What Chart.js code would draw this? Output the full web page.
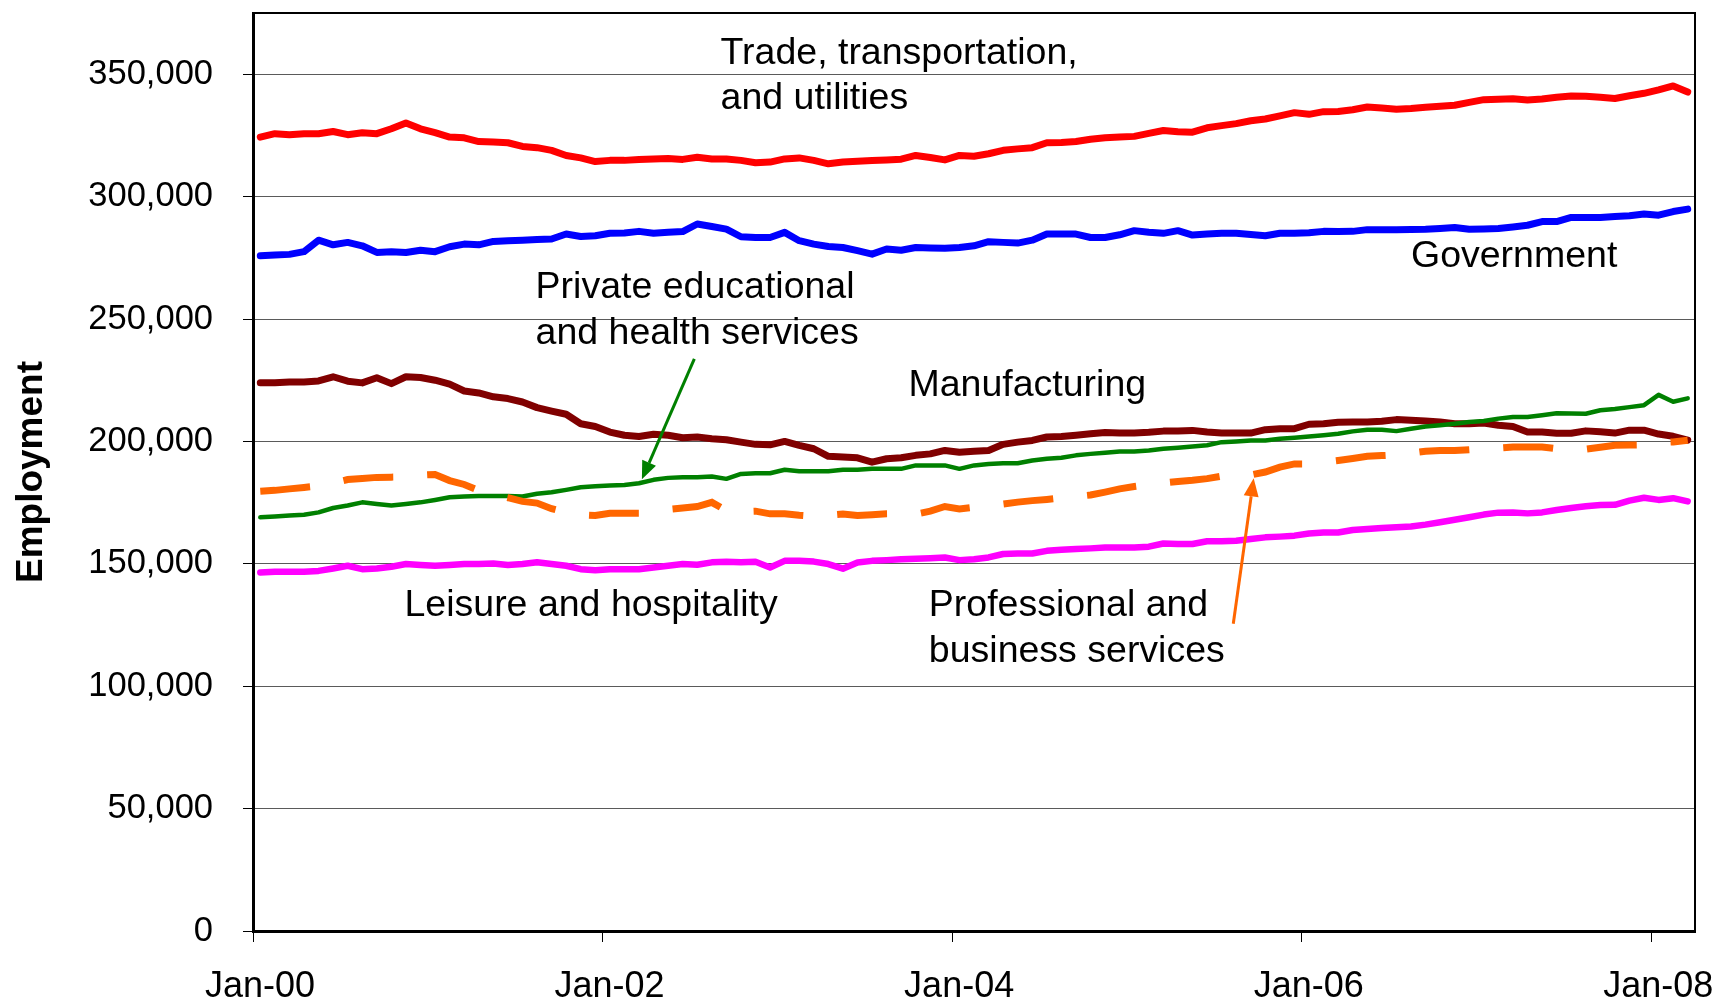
<!DOCTYPE html>
<html>
<head>
<meta charset="utf-8">
<script src="https://cdn.jsdelivr.net/npm/chart.js@4/dist/chart.umd.min.js"></script>
<style>
  html, body { margin: 0; padding: 0; background: #fff; }
  #wrap { width: 1716px; height: 1001px; }
</style>
</head>
<body>
<div id="wrap"><canvas id="chart"></canvas></div>
<script>
// monthly series, Jan-00 .. Mar-08 (99 months)
const monthCount = 99;
const tickPositions = [0, 24, 48, 72, 96];
const tickLabels = ["Jan-00", "Jan-02", "Jan-04", "Jan-06", "Jan-08"];
const yTicks = [0, 50000, 100000, 150000, 200000, 250000, 300000, 350000];

const trade = [
  324300, 325700, 325300, 325700, 325700, 326600, 325300, 326100, 325700, 327700,
  330100, 327700, 326100, 324300, 324000, 322500, 322300, 322000, 320500, 320000,
  318900, 316800, 315800, 314300, 314800, 314800, 315200, 315400, 315600, 315200,
  316100, 315400, 315400, 314800, 313800, 314100, 315400, 315800, 314800, 313400,
  314100, 314400, 314700, 315000, 315300, 316800, 316000, 315000, 316800, 316500,
  317500, 318900, 319500, 320000, 322000, 322100, 322500, 323400, 324000, 324300,
  324600, 325800, 327000, 326500, 326300, 328100, 329000, 329800, 331000, 331700,
  333000, 334300, 333600, 334700, 334800, 335500, 336600, 336200, 335700, 336000,
  336500, 336900, 337300, 338500, 339600, 339800, 340000, 339500, 339900, 340600,
  341100, 341000, 340600, 340100, 341200, 342200, 343600, 345200, 342700
];
const government = [
  275800, 276100, 276400, 277500, 282200, 280300, 281300, 279900, 277200, 277500,
  277200, 278100, 277500, 279500, 280600, 280300, 281700, 282000, 282200, 282500,
  282700, 284700, 283700, 284000, 285000, 285100, 285800, 285000, 285400, 285700,
  288800, 287800, 286700, 283600, 283300, 283300, 285400, 282000, 280600, 279600,
  279200, 277900, 276500, 278600, 278100, 279200, 279000, 278900, 279200, 279900,
  281600, 281300, 281000, 282200, 284700, 284700, 284700, 283300, 283300, 284400,
  286100, 285400, 285000, 286100, 284300, 284700, 285000, 285000, 284500, 284000,
  285000, 285000, 285200, 285800, 285700, 285800, 286500, 286500, 286500, 286600,
  286700, 287000, 287400, 286700, 286800, 287000, 287600, 288300, 289800, 289800,
  291500, 291500, 291500, 291900, 292200, 292900, 292400, 293900, 294900
];
const manufacturing = [
  224000, 224000, 224300, 224300, 224700, 226400, 224600, 223900, 226000, 223600,
  226400, 226100, 225000, 223400, 220600, 219800, 218200, 217500, 216100, 213800,
  212400, 211100, 207200, 206100, 203800, 202500, 202000, 202900, 202500, 201500,
  201800, 201100, 200700, 199700, 198800, 198600, 200000, 198400, 197000, 193900,
  193600, 193300, 191500, 192900, 193300, 194300, 194900, 196300, 195600, 196000,
  196300, 198800, 199700, 200400, 201800, 202000, 202500, 203100, 203600, 203400,
  203400, 203700, 204200, 204200, 204500, 203800, 203400, 203400, 203400, 204800,
  205200, 205200, 207000, 207200, 207800, 207900, 207900, 208200, 208900, 208600,
  208300, 207900, 207200, 207200, 207500, 206600, 206100, 203800, 203800, 203300,
  203300, 204300, 203900, 203400, 204600, 204600, 203000, 202100, 200500
];
const education = [
  169000, 169300, 169700, 170000, 171000, 172800, 173800, 175100, 174400, 173800,
  174400, 175100, 176100, 177200, 177500, 177700, 177700, 177700, 177500, 178600,
  179200, 180200, 181300, 181700, 182000, 182200, 182900, 184300, 185100, 185400,
  185400, 185700, 184700, 186700, 187000, 187000, 188400, 187800, 187800, 187800,
  188400, 188400, 188800, 188800, 188800, 190200, 190200, 190200, 188800, 190200,
  190800, 191100, 191100, 192200, 192900, 193300, 194300, 194900, 195400, 195900,
  195900, 196300, 197000, 197400, 197900, 198400, 199700, 200000, 200400, 200400,
  201100, 201500, 202000, 202500, 203100, 204100, 204800, 204800, 204200, 205200,
  206100, 206600, 207200, 207900, 208300, 209300, 210000, 210000, 210700, 211500,
  211400, 211300, 212700, 213200, 214000, 214800, 219000, 216200, 217600
];
const professional = [
  179600, 180000, 180600, 181200, 181800, 183000, 184400, 184800, 185300, 185400,
  185500, 186200, 186500, 184000, 182400, 180000, 178200, 177000, 175500, 174800,
  172500, 171000, 170000, 169700, 170600, 170600, 170600, 171500, 172200, 172800,
  173400, 175100, 171700, 171300, 171500, 170400, 170400, 169800, 169400, 169800,
  170300, 169700, 170000, 170400, 170500, 170300, 171500, 173400, 172400, 173100,
  173800, 174400, 175200, 175800, 176300, 176900, 177500, 178100, 179300, 180600,
  181600, 182400, 183000, 183600, 184100, 184800, 185800, 186100, 186300, 187500,
  189500, 190800, 190800, 191500, 192200, 193000, 193900, 194200, 194500, 195200,
  196000, 196300, 196300, 196600, 197000, 197300, 197700, 197700, 197700, 197000,
  196400, 196800, 197600, 198400, 198500, 198600, 199500, 199800, 200500
];
const leisure = [
  146400, 146800, 146800, 146800, 147100, 148100, 149200, 147800, 148100, 148800,
  149900, 149500, 149200, 149500, 149900, 149900, 150100, 149500, 149900, 150600,
  149900, 149200, 147800, 147400, 147800, 147800, 147800, 148500, 149200, 149900,
  149600, 150600, 150800, 150600, 150800, 148500, 151200, 151200, 150900, 149900,
  148000, 150500, 151200, 151500, 151900, 152100, 152300, 152600, 151500, 151900,
  152600, 154000, 154200, 154200, 155300, 155700, 156000, 156300, 156700, 156700,
  156700, 157000, 158300, 158100, 158100, 159200, 159200, 159400, 160100, 160800,
  161100, 161500, 162400, 162800, 162800, 163800, 164200, 164600, 164900, 165200,
  166000, 167000, 168000, 169000, 170100, 170900, 171000, 170600, 171000, 172000,
  172800, 173500, 174000, 174100, 175800, 177000, 176100, 176800, 175500
];

// labels and arrows, anchored in axis units (x: months, y: employment)
const notes = [
  { lines: ["Trade, transportation,", "and utilities"], x: 32.1, y: 358400 },
  { lines: ["Government"], x: 79.5, y: 275300 },
  { lines: ["Private educational", "and health services"], x: 19.4, y: 262700 },
  { lines: ["Manufacturing"], x: 45.0, y: 222600 },
  { lines: ["Leisure and hospitality"], x: 10.4, y: 132800 },
  { lines: ["Professional and", "business services"], x: 46.4, y: 132800 },
];
const arrows = [
  { color: "#008000", from: [30.3, 233700], to: [26.7, 184500] },
  { color: "#ff6600", from: [67.3, 125500], to: [68.7, 184900] },
];

const FONT = '"Liberation Sans", Arial, sans-serif';
Chart.defaults.font.family = FONT;
Chart.defaults.color = "#000";

const toPoints = (values) => values.map((v, i) => ({ x: i + 0.5, y: v }));

const series = (label, values, color, width, order, extra = {}) => ({
  label,
  data: toPoints(values),
  borderColor: color,
  backgroundColor: color,
  borderWidth: width,
  pointRadius: 0,
  tension: 0,
  borderJoinStyle: "round",
  borderCapStyle: "round",
  order,
  ...extra,
});

// keep the plot box where the original has it
const noScalePadding = (s) => {
  s.paddingTop = 0;
  s.paddingBottom = 0;
  s.paddingLeft = 0;
  s.paddingRight = 0;
};

const notesPlugin = {
  id: "notes",
  afterDatasetsDraw(chart) {
    const { ctx, scales: { x, y } } = chart;
    ctx.save();
    ctx.fillStyle = "#000";
    ctx.font = `37.5px ${FONT}`;
    ctx.textAlign = "left";
    ctx.textBaseline = "middle";
    notes.forEach((n) => {
      n.lines.forEach((line, k) => {
        ctx.fillText(line, x.getPixelForValue(n.x), y.getPixelForValue(n.y) + k * 45.5);
      });
    });

    arrows.forEach((a) => {
      const x0 = x.getPixelForValue(a.from[0]);
      const y0 = y.getPixelForValue(a.from[1]);
      const x1 = x.getPixelForValue(a.to[0]);
      const y1 = y.getPixelForValue(a.to[1]);
      const ang = Math.atan2(y1 - y0, x1 - x0);
      const head = 18, half = 7.5;
      const bx = x1 - head * Math.cos(ang);
      const by = y1 - head * Math.sin(ang);
      ctx.strokeStyle = a.color;
      ctx.fillStyle = a.color;
      ctx.lineWidth = 3;
      ctx.beginPath();
      ctx.moveTo(x0, y0);
      ctx.lineTo(bx, by);
      ctx.stroke();
      ctx.beginPath();
      ctx.moveTo(x1, y1);
      ctx.lineTo(bx + half * Math.sin(ang), by - half * Math.cos(ang));
      ctx.lineTo(bx - half * Math.sin(ang), by + half * Math.cos(ang));
      ctx.closePath();
      ctx.fill();
    });
    ctx.restore();
  },
  afterDraw(chart) {
    const { ctx, chartArea: a } = chart;
    ctx.save();
    ctx.strokeStyle = "#000";
    ctx.lineWidth = 2;
    ctx.strokeRect(a.left, a.top, a.right - a.left, a.bottom - a.top);
    ctx.restore();
  },
};

new Chart(document.getElementById("chart"), {
  type: "line",
  data: {
    datasets: [
      series("Trade, transportation, and utilities", trade, "#ff0000", 7, 5),
      series("Government", government, "#0000ff", 7, 6),
      series("Manufacturing", manufacturing, "#800000", 7, 4),
      series("Private educational and health services", education, "#008000", 4.5, 2),
      series("Professional and business services", professional, "#ff6600", 7, 1, {
        borderDash: [50, 34],
        borderCapStyle: "butt",
        borderJoinStyle: "miter",
      }),
      series("Leisure and hospitality", leisure, "#ff00ff", 6.5, 3),
    ],
  },
  options: {
    responsive: true,
    maintainAspectRatio: false,
    animation: false,
    layout: { autoPadding: false, padding: { top: 13, right: 21, left: 0, bottom: 0 } },
    plugins: { legend: { display: false }, tooltip: { enabled: false } },
    scales: {
      x: {
        type: "linear",
        min: 0,
        max: monthCount,
        afterBuildTicks: (s) => { s.ticks = tickPositions.map((v) => ({ value: v })); },
        afterFit: (s) => { s.height = 70; noScalePadding(s); },
        grid: { drawOnChartArea: false, tickLength: 11, tickColor: "#000", lineWidth: 1 },
        border: { color: "#000", width: 3 },
        ticks: {
          autoSkip: false,
          maxRotation: 0,
          labelOffset: 7,
          padding: 23,
          color: "#000",
          font: { size: 36 },
          callback: (v) => tickLabels[tickPositions.indexOf(v)],
        },
      },
      y: {
        min: 0,
        max: 375000,
        afterBuildTicks: (s) => { s.ticks = yTicks.map((v) => ({ value: v })); },
        afterFit: (s) => { s.width = 253; noScalePadding(s); },
        grid: { color: "#5a5a5a", lineWidth: 1, tickLength: 10, tickColor: "#000" },
        border: { color: "#000", width: 3 },
        ticks: {
          padding: 30,
          color: "#000",
          font: { size: 34.5 },
          callback: (v) => Number(v).toLocaleString("en-US"),
        },
        title: {
          display: true,
          text: "Employment",
          color: "#000",
          font: { size: 37, weight: "bold" },
          padding: { top: 10, bottom: 0 },
        },
      },
    },
  },
  plugins: [notesPlugin],
});
</script>
</body>
</html>
